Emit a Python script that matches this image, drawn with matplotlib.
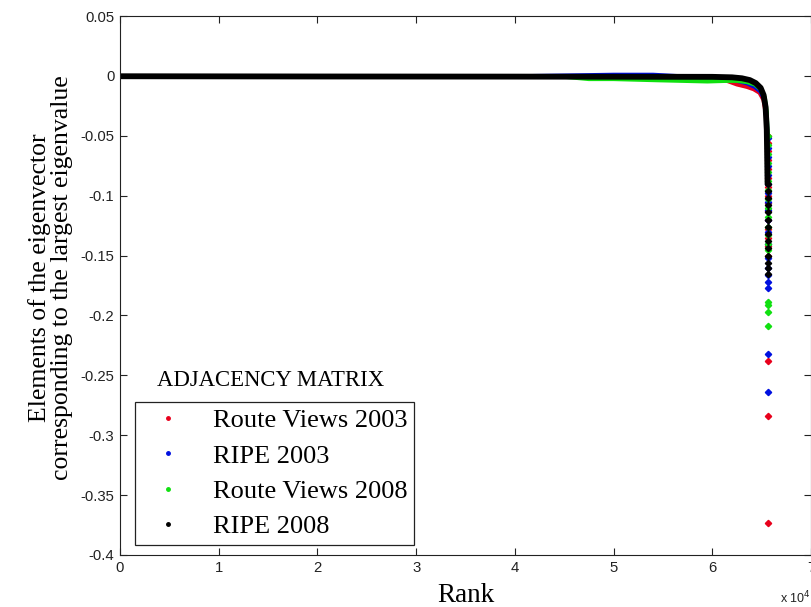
import matplotlib.pyplot as plt
import numpy as np
from matplotlib.lines import Line2D

plt.rcParams['axes.unicode_minus'] = False

# Smooth (dense) part of each sorted eigenvector: rank -> element value
rv03_rank = [1, 20000, 40000, 55000, 60000, 61500, 62500, 63500, 64200, 64800, 65200, 65450, 65580]
rv03_val = [-0.0004, -0.0005, -0.0006, -0.001, -0.002, -0.004, -0.007, -0.009, -0.011, -0.014, -0.02, -0.032, -0.05]
ripe03_rank = [1, 20000, 40000, 50000, 54000, 58000, 61500, 62500, 63500, 64300, 64900, 65300, 65500, 65590]
ripe03_val = [-0.0004, -0.0005, -0.0005, 0.0008, 0.0008, -0.001, -0.002, -0.004, -0.006, -0.009, -0.013, -0.02, -0.033, -0.052]
rv08_rank = [1, 20000, 45000, 47500, 50000, 54500, 59500, 61500, 62500, 63500, 64300, 64900, 65300, 65500, 65590]
rv08_val = [-0.0004, -0.0005, -0.0006, -0.0025, -0.0025, -0.0035, -0.0045, -0.004, -0.004, -0.005, -0.007, -0.011, -0.018, -0.03, -0.05]
ripe08_rank = [1, 20000, 40000, 60000, 62000, 63000, 63800, 64400, 64900, 65200, 65400, 65520, 65600]
ripe08_val = [-0.0003, -0.0005, -0.0006, -0.0008, -0.0012, -0.002, -0.0035, -0.006, -0.01, -0.016, -0.026, -0.045, -0.09]

# Largest-magnitude elements (the tail at the highest ranks)
rv03_tail = [-0.05, -0.056, -0.063, -0.07, -0.078, -0.085, -0.093, -0.1, -0.106, -0.113,
             -0.12, -0.128, -0.135, -0.142, -0.15, -0.238, -0.284, -0.373]
ripe03_tail = [-0.052, -0.06, -0.068, -0.075, -0.083, -0.09, -0.098, -0.105, -0.112, -0.12,
               -0.13, -0.14, -0.152, -0.16, -0.166, -0.172, -0.177, -0.232, -0.264]
rv08_tail = [-0.05, -0.058, -0.065, -0.073, -0.08, -0.088, -0.095, -0.103, -0.11, -0.118,
             -0.126, -0.133, -0.14, -0.145, -0.189, -0.191, -0.197, -0.209]
ripe08_tail = [-0.09, -0.096, -0.102, -0.108, -0.114, -0.12, -0.126, -0.132, -0.138,
               -0.144, -0.15, -0.156, -0.16, -0.165]

labels = ['Route Views 2003', 'RIPE 2003', 'Route Views 2008', 'RIPE 2008']
colors = ['#e8001c', '#0010e0', '#10e010', '#000000']

series = [(rv03_rank, rv03_val, rv03_tail),
          (ripe03_rank, ripe03_val, ripe03_tail),
          (rv08_rank, rv08_val, rv08_tail),
          (ripe08_rank, ripe08_val, ripe08_tail)]

fig = plt.figure(figsize=(8.12, 6.07), dpi=100)
ax = fig.add_axes([120 / 812, 52 / 607, 691 / 812, 539 / 607])

for (rk, vals, tail), c in zip(series, colors):
    lw = 4.2 if c == '#000000' else 3.2
    ax.plot(rk, vals, '-', color=c, lw=lw, solid_capstyle='round')
    tail_rank = np.full(len(tail), 65600)
    ax.plot(tail_rank, tail, 'D', color=c, ms=3.2, mec=c)

ax.set_xlim(0, 70000)
ax.set_ylim(-0.4, 0.05)
ax.set_xticks(np.arange(0, 70001, 10000))
ax.set_xticklabels([str(i) for i in range(8)])
yt = np.arange(-0.4, 0.0501, 0.05)
ax.set_yticks(yt)
ax.set_yticklabels(['0' if abs(v) < 1e-9 else '%g' % round(v, 2) for v in yt])
ax.tick_params(direction='in', top=True, right=True, length=5, width=0.8,
               labelsize=10.7, colors='#222222', pad=4)
for lab in ax.get_xticklabels() + ax.get_yticklabels():
    lab.set_fontfamily('Liberation Sans')
for s in ax.spines.values():
    s.set_linewidth(0.8)
    s.set_color('#222222')

serif = 'Liberation Serif'
ax.set_xlabel('Rank', fontsize=19.5, family=serif, labelpad=6)
ax.set_ylabel('Elements of the eigenvector\ncorresponding to the largest eigenvalue',
              fontsize=18.5, family=serif, labelpad=6, linespacing=1.0)
ax.yaxis.set_label_coords(-0.068, 0.515)
ax.text(1.0, -0.08, 'x 10$^4$', transform=ax.transAxes, ha='right', va='center',
        fontsize=9, family='Liberation Sans', color='#222222')

handles = [Line2D([], [], ls='none', marker='.', ms=5, color=c) for c in colors]
leg = ax.legend(handles, labels, loc='lower left',
                bbox_to_anchor=(135 / 812, 62 / 607), bbox_transform=fig.transFigure,
                borderaxespad=0, fancybox=False, framealpha=1, edgecolor='#222222',
                prop={'family': serif, 'size': 19}, handlelength=2.0, handletextpad=0.7,
                labelspacing=0.45, borderpad=0.25)
leg.get_frame().set_linewidth(0.9)
fig.text(271 / 812, 1 - 381 / 607, 'ADJACENCY MATRIX', ha='center', va='center',
         fontsize=16.4, family=serif)

fig.savefig('out.png', dpi=100)
